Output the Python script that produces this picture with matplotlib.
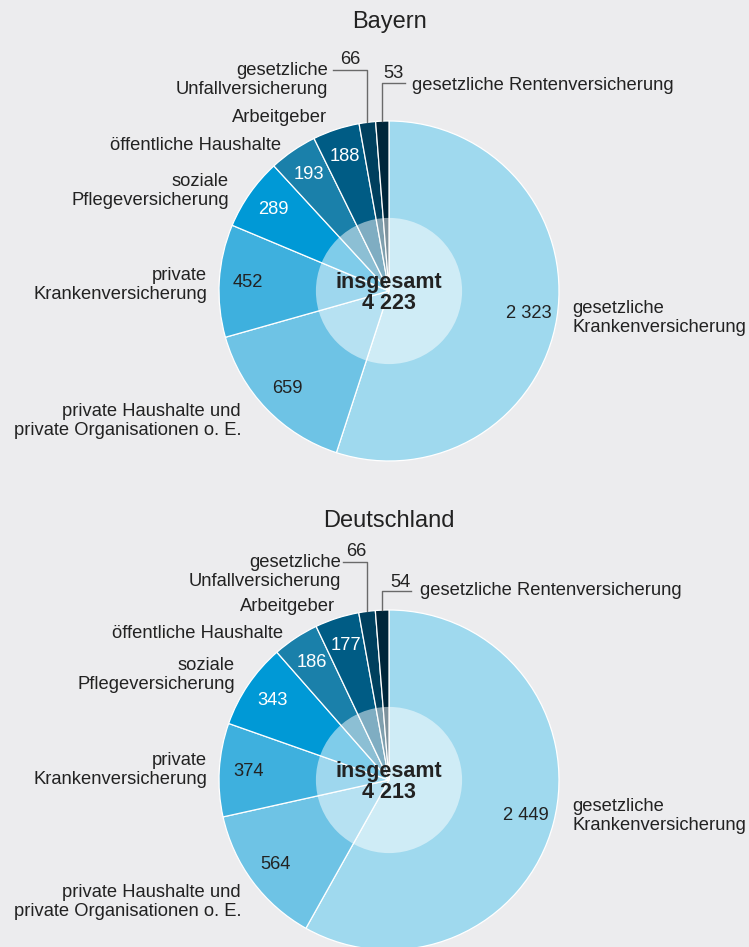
import matplotlib.pyplot as plt
import numpy as np

plt.rcParams['font.family'] = ['Liberation Sans', 'DejaVu Sans']

# Ausgaben nach Ausgabenträgern (Mio. Euro)
categories = [
    "gesetzliche\nKrankenversicherung",
    "private Haushalte und\nprivate Organisationen o. E.",
    "private\nKrankenversicherung",
    "soziale\nPflegeversicherung",
    "öffentliche Haushalte",
    "Arbeitgeber",
    "gesetzliche\nUnfallversicherung",
    "gesetzliche Rentenversicherung",
]
bayern = [2323, 659, 452, 289, 193, 188, 66, 53]
deutschland = [2449, 564, 374, 343, 186, 177, 66, 54]
value_labels_by = ["2 323", "659", "452", "289", "193", "188", "66", "53"]
value_labels_de = ["2 449", "564", "374", "343", "186", "177", "66", "54"]
total_by = "4 223"
total_de = "4 213"

colors = ["#9fd9ee", "#6ec3e5", "#3eb0de", "#0099d6", "#1a80aa", "#005c85", "#00405e", "#00263a"]
text_colors = ["#222222", "#222222", "#222222", "white", "white", "white"]
bg = "#ececee"
ink = "#222222"
fs = 13.2

W, H = 749, 947
fig = plt.figure(figsize=(W / 100, H / 100), dpi=100, facecolor=bg)
ax = fig.add_axes([0, 0, 1, 1])
ax.set_facecolor(bg)


def Y(py):
    return H - py


# per panel layout (pixel coords from top-left)
panels = [
    dict(title="Bayern", title_y=22, cx=389, cy=291, r=170, values=bayern,
         vlabels=value_labels_by, total=total_by,
         lab=[(572, 318, "left"), (241, 421, "right"), (207, 285, "right"), (229, 191, "right"),
              (281, 145, "right"), (327, 117, "right"), (328, 80, "right"), (412, 85, "left")],
         l66=(333, 70), n66=(350, 59), l53=(405, 83), n53=(393, 73)),
    dict(title="Deutschland", title_y=521, cx=389, cy=780, r=170, values=deutschland,
         vlabels=value_labels_de, total=total_de,
         lab=[(572, 816, "left"), (241, 902, "right"), (207, 770, "right"), (235, 675, "right"),
              (283, 633, "right"), (335, 606, "right"), (341, 572, "right"), (420, 590, "left")],
         l66=(343, 562), n66=(356, 551), l53=(411, 591), n53=(400, 582)),
]

for p in panels:
    cx, cy, r = p["cx"], Y(p["cy"]), p["r"]
    wedges, _ = ax.pie(p["values"], colors=colors, startangle=90, counterclock=False,
                       center=(cx, cy), radius=r,
                       wedgeprops=dict(edgecolor="white", linewidth=0.9))
    # lighter inner disc
    ax.add_patch(plt.Circle((cx, cy), 0.43 * r, facecolor="white", alpha=0.5, edgecolor="none", zorder=3))
    ax.text(cx, cy + 9, "insgesamt", ha="center", va="center", fontsize=15.5, fontweight="bold", color=ink, zorder=4)
    ax.text(cx, cy - 12, p["total"], ha="center", va="center", fontsize=15.5, fontweight="bold", color=ink, zorder=4)
    ax.text(cx, Y(p["title_y"]), p["title"], ha="center", va="center", fontsize=17, color=ink)

    mids = [np.deg2rad((w.theta1 + w.theta2) / 2) for w in wedges]
    for i in range(6):
        rr = 0.83 * r
        ax.text(cx + rr * np.cos(mids[i]), cy + rr * np.sin(mids[i]), p["vlabels"][i],
                ha="center", va="center", fontsize=fs, color=text_colors[i], zorder=4)

    for i, (lx, ly, ha) in enumerate(p["lab"]):
        ax.text(lx, Y(ly), categories[i], ha=ha, va="center", fontsize=fs, color=ink, linespacing=1.2)

    # leader lines for the two small wedges
    x6 = cx + r * np.cos(mids[6])
    y6 = cy + r * np.sin(mids[6])
    ax.plot([p["l66"][0], x6, x6], [Y(p["l66"][1]), Y(p["l66"][1]), y6], color="#6a6a6a", lw=1.0)
    ax.text(p["n66"][0], Y(p["n66"][1]), p["vlabels"][6], ha="center", va="center", fontsize=fs, color=ink)
    x7 = cx + r * np.cos(mids[7])
    y7 = cy + r * np.sin(mids[7])
    ax.plot([x7, x7, p["l53"][0]], [y7, Y(p["l53"][1]), Y(p["l53"][1])], color="#6a6a6a", lw=1.0)
    ax.text(p["n53"][0], Y(p["n53"][1]), p["vlabels"][7], ha="center", va="center", fontsize=fs, color=ink)

ax.set_xlim(0, W)
ax.set_ylim(0, H)
ax.set_aspect("equal")
ax.axis("off")

fig.savefig("out.png", dpi=100, facecolor=bg)
